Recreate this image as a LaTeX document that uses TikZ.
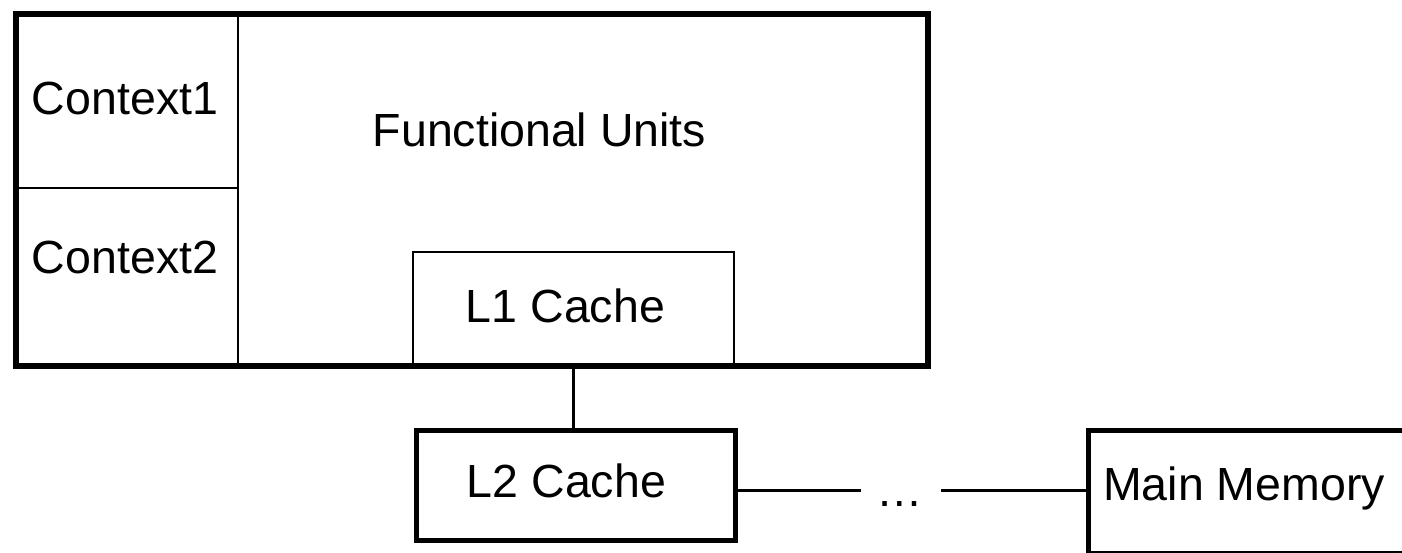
\documentclass[tikz,border=0pt]{standalone}
\usepackage{fontspec}
\setmainfont{Liberation Sans}
\begin{document}
\begin{tikzpicture}[x=1pt,y=-1pt,
  thinbox/.style={draw, line width=2pt, rectangle, inner sep=0pt, anchor=north west},
  thickbox/.style={draw, line width=5pt, rectangle, inner sep=0pt, anchor=north west},
  lbl/.style={font=\fontsize{46.5}{56}\selectfont, inner sep=0pt, anchor=base},
  conn/.style={line width=3pt}]
\useasboundingbox (0,0) rectangle (1402,553);
\clip (0,0) rectangle (1402,553);
% context cells
\node[thinbox, minimum width=224pt, minimum height=176pt] (ctx1) at (13,11) {};
\node[thinbox, minimum width=224pt, minimum height=176pt] (ctx2) at (13,187) {};
\node[thinbox, minimum width=321pt, minimum height=112pt] (l1) at (412,251) {};
% processor outline
\node[draw, line width=6pt, rectangle, inner sep=0pt, anchor=north west,
      minimum width=912pt, minimum height=352pt] (cpu) at (13,11) {};
% L2 and main memory
\node[thickbox, minimum width=319pt, minimum height=110pt] (l2) at (413.5,427.5) {};
\node[thickbox, minimum width=400pt, minimum height=123.5pt] (mm) at (1085.5,427.5) {};
% labels
\node[lbl] (t1) at (125,115) {Context1};
\node[lbl] (t2) at (125,273) {Context2};
\node[lbl] (fu) at (539.5,147) {Functional Units};
\node[lbl] (t3) at (565.5,322) {L1 Cache};
\node[lbl] (t4) at (566.5,497) {L2 Cache};
\node[lbl] (t5) at (1244,500) {Main Memory};
\node[lbl] (dots) at (900,506) {…};
% connectors
\coordinate (c1) at (861,490);
\coordinate (c2) at (941,490);
\draw[conn] (l1.south) -- (l1.south |- l2.north);
\draw[conn] (l2.east |- c1) -- (c1);
\draw[conn] (c2) -- (mm.west |- c2);
\end{tikzpicture}
\end{document}
